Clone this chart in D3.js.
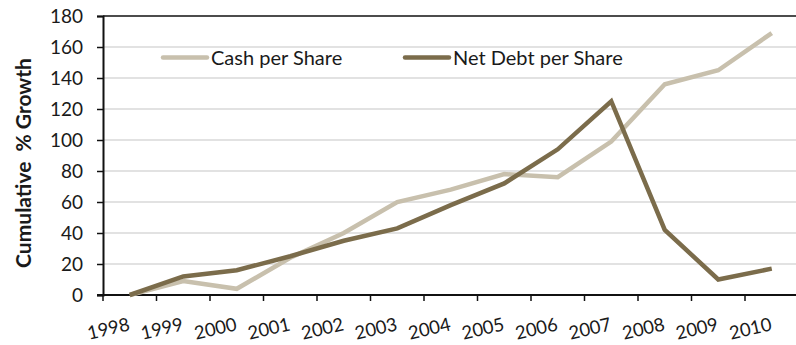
<!DOCTYPE html>
<html>
<head>
<meta charset="utf-8">
<script src="https://cdnjs.cloudflare.com/ajax/libs/d3/7.8.5/d3.min.js"></script>
<style>
  html, body { margin: 0; padding: 0; background: #fff; }
  svg { display: block; font-family: "Lato", "Open Sans", sans-serif; }
</style>
</head>
<body>
<svg id="chart" width="796" height="345"></svg>
<script>
// Cumulative growth (%) since 1998
const years = ["1998","1999","2000","2001","2002","2003","2004","2005","2006","2007","2008","2009","2010"];
const cashPerShare    = [0, 9, 4, 24, 40, 60, 68, 78, 76, 99, 136, 145, 169];
const netDebtPerShare = [0, 12, 16, 25, 35, 43, 58, 72, 94, 125, 42, 10, 17];
const yTicks = [0, 20, 40, 60, 80, 100, 120, 140, 160, 180];
const seriesNames = ["Cash per Share", "Net Debt per Share"];
const seriesColors = ["#c8c0ad", "#7b6c4b"];

const svg = d3.select("#chart");
const plotLeft = 103, plotRight = 798.5, plotTop = 16, plotBottom = 295;

const x = d3.scaleBand().domain(years).range([plotLeft, plotRight]).padding(0);
const y = d3.scaleLinear().domain([0, 180]).range([plotBottom, plotTop]);

// horizontal gridlines
svg.append("g")
  .selectAll("line")
  .data(yTicks.filter(d => d > 0 && d < 180))
  .join("line")
  .attr("x1", plotLeft).attr("x2", 796)
  .attr("y1", d => y(d)).attr("y2", d => y(d))
  .attr("stroke", "#d9d9d9").attr("stroke-width", 1.5);

// top frame line at the axis maximum
svg.append("line")
  .attr("x1", plotLeft).attr("x2", 796)
  .attr("y1", y(180)).attr("y2", y(180))
  .attr("stroke", "#111").attr("stroke-width", 1.6);

// y axis
const yAxis = svg.append("g")
  .attr("transform", `translate(${plotLeft},0)`)
  .call(d3.axisLeft(y).tickValues(yTicks).tickSize(6).tickPadding(14));
yAxis.select(".domain").attr("stroke", "#111").attr("stroke-width", 2);
yAxis.selectAll(".tick line").attr("stroke", "#111").attr("stroke-width", 1.5);
yAxis.selectAll(".tick text")
  .attr("font-size", 19).attr("fill", "#1a1a1a")
  .attr("font-family", "Lato, sans-serif");

// x axis: ticks on band boundaries
const xAxisG = svg.append("g").attr("transform", `translate(0,${plotBottom})`);
xAxisG.append("line")
  .attr("x1", plotLeft - 6).attr("x2", 796)
  .attr("stroke", "#111").attr("stroke-width", 2);
xAxisG.selectAll("line.tk")
  .data(years)
  .join("line")
  .attr("class", "tk")
  .attr("x1", d => x(d)).attr("x2", d => x(d))
  .attr("y1", 0).attr("y2", 6)
  .attr("stroke", "#111").attr("stroke-width", 1.5);
xAxisG.selectAll("text")
  .data(years)
  .join("text")
  .attr("transform", d => `translate(${x(d) + x.bandwidth() / 2 + 1},${35}) rotate(-13)`)
  .attr("text-anchor", "end")
  .attr("font-size", 18.5)
  .attr("fill", "#1a1a1a")
  .text(d => d);

// y axis title
svg.append("text")
  .attr("transform", `translate(31,163) rotate(-90)`)
  .attr("text-anchor", "middle")
  .attr("font-size", 21)
  .attr("font-weight", "bold")
  .attr("fill", "#1a1a1a")
  .style("white-space", "pre")
  .text("Cumulative  % Growth");

// series lines
const line = d3.line()
  .x((d, i) => x(years[i]) + x.bandwidth() / 2)
  .y(d => y(d));

[cashPerShare, netDebtPerShare].forEach((vals, k) => {
  svg.append("path")
    .datum(vals)
    .attr("d", line)
    .attr("fill", "none")
    .attr("stroke", seriesColors[k])
    .attr("stroke-width", 4.5)
    .attr("stroke-linejoin", "miter");
});

// legend
const legendX = [163, 405];
seriesNames.forEach((name, k) => {
  const g = svg.append("g").attr("transform", `translate(${legendX[k]},57.5)`);
  g.append("line")
    .attr("x1", 0).attr("x2", 44)
    .attr("stroke", seriesColors[k]).attr("stroke-width", 4.5)
    .attr("stroke-linecap", "round");
  g.append("text")
    .attr("x", 48).attr("y", 7)
    .attr("font-size", 20)
    .attr("fill", "#1a1a1a")
    .text(name);
});
</script>
</body>
</html>
